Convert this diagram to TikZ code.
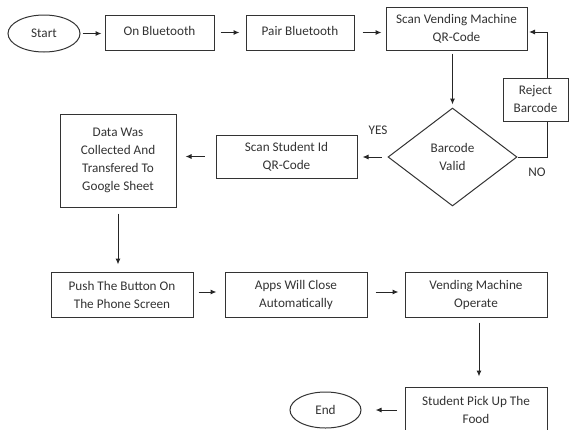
\documentclass[tikz,border=0pt]{standalone}
\usepackage{fontspec}
\setmainfont{Carlito}
\usetikzlibrary{shapes.geometric,arrows.meta}
\begin{document}
\begin{tikzpicture}[x=1pt,y=-1pt,
  every node/.style={font=\fontsize{13.2}{18}\selectfont, text=black!80},
  proc/.style={draw=black!80, line width=1pt, rectangle, inner sep=0pt, align=center},
  term/.style={draw=black!80, line width=1pt, ellipse, inner sep=0pt},
  decis/.style={draw=black!80, line width=1pt, diamond, inner sep=0pt, align=center},
  flow/.style={draw=black!85, line width=1pt, -{Latex[length=6pt,width=5pt]}},
  link/.style={draw=black!85, line width=1pt},
  lbl/.style={inner sep=0pt}]
\useasboundingbox (0,0) rectangle (570,429);
\clip (0,0) rectangle (570,429);

% terminals
\node[term, minimum width=72pt, minimum height=37pt] (start) at (44,33.5) {Start};
\node[term, minimum width=71pt, minimum height=36pt] (end) at (325.5,410) {End};

% top row
\node[proc, minimum width=109pt, minimum height=35pt] (onbt) at (159.5,32.5) {\raisebox{3pt}{On Bluetooth}};
\node[proc, minimum width=108pt, minimum height=35pt] (pair) at (300,32.5) {\raisebox{3pt}{Pair Bluetooth}};
\node[proc, minimum width=141pt, minimum height=43pt] (scanvm) at (456.5,28.5) {Scan Vending Machine\\QR-Code};

% decision and reject loop
\node[decis, minimum width=129pt, minimum height=98pt] (valid) at (452.5,157) {Barcode\\Valid};
\node[proc, minimum width=65pt, minimum height=43pt] (reject) at (535.5,99.5) {Reject\\Barcode};

% second row
\node[proc, minimum width=141pt, minimum height=43pt] (scanid) at (286.5,156.5) {Scan Student Id\\QR-Code};
\node[proc, minimum width=116pt, minimum height=93pt] (data) at (118,160.5) {Data Was\\Collected And\\Transfered To\\Google Sheet};

% third row
\node[proc, minimum width=142pt, minimum height=45pt] (push) at (122,294.5) {Push The Button On\\The Phone Screen};
\node[proc, minimum width=142pt, minimum height=45pt] (apps) at (296,294.5) {Apps Will Close\\Automatically};
\node[proc, minimum width=142pt, minimum height=45pt] (vend) at (476,294.5) {Vending Machine\\Operate};

% last step
\node[proc, minimum width=142pt, minimum height=45pt] (pick) at (476,409.5) {Student Pick Up The\\Food};

% loop-back route
\coordinate (nox) at (547,0);
\coordinate (backin) at (527,32);

% connectors
\draw[flow, shorten <=2pt, shorten >=3pt] (start.east) -- (onbt.west |- start.east);
\draw[flow, shorten <=6pt, shorten >=6pt] (onbt.east) -- (pair.west);
\draw[flow, shorten <=8pt, shorten >=4pt] (pair.east) -- (pair.east -| scanvm.west);
\draw[flow, shorten <=3pt, shorten >=3pt] (scanvm.south -| valid.north) -- (valid.north);
\draw[flow, shorten <=6pt, shorten >=5pt] (valid.west) -- (valid.west -| scanid.east);
\draw[flow, shorten <=11pt, shorten >=9pt] (scanid.west) -- (scanid.west -| data.east);
\draw[flow, shorten <=6pt, shorten >=7pt] (data.south) -- (data.south |- push.north);
\draw[flow, shorten <=5pt, shorten >=8pt] ([yshift=2.5pt]push.east) -- ([yshift=2.5pt]apps.west);
\draw[flow, shorten <=8pt, shorten >=6pt] ([yshift=2.5pt]apps.east) -- ([yshift=2.5pt]vend.west);
\draw[flow, shorten <=5pt, shorten >=10pt] ([xshift=3pt]vend.south) -- ([xshift=3pt]pick.north);
\draw[flow, shorten <=8pt, shorten >=14pt] (pick.west |- end.east) -- (end.east);
\draw[link] (valid.east) -- (valid.east -| nox) -- (reject.south -| nox);
\draw[flow, shorten >=2pt] (reject.north -| nox) -- (nox |- backin) -- (backin);

% branch labels
\node[lbl] (yes) at (378,130) {YES};
\node[lbl] (no) at (537,172) {NO};
\end{tikzpicture}
\end{document}
